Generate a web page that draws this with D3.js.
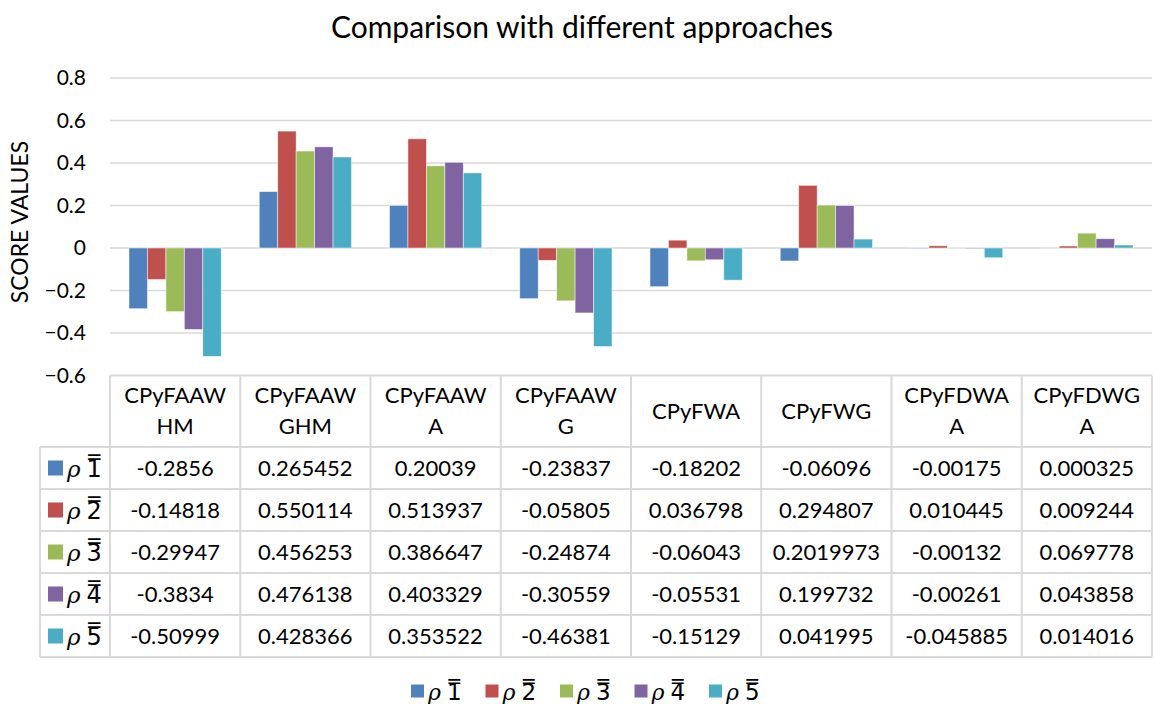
<!DOCTYPE html>
<html>
<head>
<meta charset="utf-8">
<script src="https://cdn.jsdelivr.net/npm/d3@7"></script>
<style>
  html, body { margin: 0; padding: 0; background: #fff; }
  svg { display: block; font-family: Lato, "Open Sans", sans-serif; }
</style>
</head>
<body>
<svg id="chart" width="1156" height="704"></svg>
<script>
// Approaches compared along the x axis (header text split into lines)
const categories = ["CPyFAAWHM", "CPyFAAWGHM", "CPyFAAWA", "CPyFAAWG", "CPyFWA", "CPyFWG", "CPyFDWAA", "CPyFDWGA"];
const headerLines = [["CPyFAAW", "HM"], ["CPyFAAW", "GHM"], ["CPyFAAW", "A"], ["CPyFAAW", "G"], ["CPyFWA"], ["CPyFWG"], ["CPyFDWA", "A"], ["CPyFDWG", "A"]];

// Series names (digit after the rho symbol)
const seriesKeys = ["1", "2", "3", "4", "5"];

// Score values per series, one entry per approach; table strings as printed
const rho1 = ["-0.2856", "0.265452", "0.20039", "-0.23837", "-0.18202", "-0.06096", "-0.00175", "0.000325"];
const rho2 = ["-0.14818", "0.550114", "0.513937", "-0.05805", "0.036798", "0.294807", "0.010445", "0.009244"];
const rho3 = ["-0.29947", "0.456253", "0.386647", "-0.24874", "-0.06043", "0.2019973", "-0.00132", "0.069778"];
const rho4 = ["-0.3834", "0.476138", "0.403329", "-0.30559", "-0.05531", "0.199732", "-0.00261", "0.043858"];
const rho5 = ["-0.50999", "0.428366", "0.353522", "-0.46381", "-0.15129", "0.041995", "-0.045885", "0.014016"];

const yTicks = [0.8, 0.6, 0.4, 0.2, 0, -0.2, -0.4, -0.6];
const colors = ["#4F81BD", "#C0504D", "#9BBB59", "#8064A2", "#4BACC6"];

const seriesText = [rho1, rho2, rho3, rho4, rho5];
const seriesVals = seriesText.map(arr => arr.map(Number));

const svg = d3.select("#chart");

const plotLeft = 110, plotRight = 1152;
const plotTop = 78, plotBottom = 375.5;

const x0 = d3.scaleBand().domain(categories).range([plotLeft, plotRight]);
const x1 = d3.scaleBand().domain(seriesKeys).range([0, x0.bandwidth()]).paddingOuter(1.03).paddingInner(0);
const y = d3.scaleLinear().domain([-0.6, 0.8]).range([plotBottom, plotTop]);

const gridColor = "#d9d9d9";

// Title
svg.append("text")
  .attr("x", 582).attr("y", 38)
  .attr("text-anchor", "middle")
  .attr("font-size", 30).attr("fill", "#000")
  .text("Comparison with different approaches");

// Horizontal gridlines
svg.append("g").selectAll("line")
  .data(yTicks.filter(t => t !== -0.6))
  .join("line")
  .attr("x1", plotLeft).attr("x2", plotRight)
  .attr("y1", d => y(d)).attr("y2", d => y(d))
  .attr("stroke", gridColor).attr("stroke-width", 1.5);

// Y axis tick labels
const yAxis = d3.axisLeft(y).tickValues(yTicks).tickSize(0).tickPadding(0)
  .tickFormat(d => d === 0 ? "0" : d3.format(".1f")(d));
const yg = svg.append("g").attr("transform", `translate(86,0)`).call(yAxis);
yg.select(".domain").remove();
yg.selectAll("text").attr("font-size", 21).attr("fill", "#000")
  .attr("font-family", "Lato, 'Open Sans', sans-serif");

// Y axis title
svg.append("text")
  .attr("transform", "translate(28,222) rotate(-90)")
  .attr("text-anchor", "middle")
  .attr("font-size", 23).attr("fill", "#000")
  .text("SCORE VALUES");

// Bars
const groups = svg.append("g").selectAll("g")
  .data(categories)
  .join("g")
  .attr("transform", d => `translate(${x0(d)},0)`);

groups.selectAll("rect")
  .data((c, ci) => seriesKeys.map((k, si) => ({ k, si, v: seriesVals[si][ci] })))
  .join("rect")
  .attr("x", d => x1(d.k))
  .attr("width", x1.bandwidth())
  .attr("y", d => y(Math.max(0, d.v)))
  .attr("height", d => Math.abs(y(d.v) - y(0)))
  .attr("fill", d => colors[d.si])
  .attr("stroke", "#ffffff").attr("stroke-opacity", 0.6).attr("stroke-width", 0.8);

// Data table
const headerTop = 375.5, headerBottom = 447;
const rowH = 42;
const tableLeft = 40;
const rowTops = seriesKeys.map((k, i) => headerBottom + i * rowH);
const tableBottom = headerBottom + seriesKeys.length * rowH;

const tg = svg.append("g");
function hline(x1v, x2v, yv) {
  tg.append("line").attr("x1", x1v).attr("x2", x2v).attr("y1", yv).attr("y2", yv)
    .attr("stroke", gridColor).attr("stroke-width", 2);
}
function vline(xv, y1v, y2v) {
  tg.append("line").attr("x1", xv).attr("x2", xv).attr("y1", y1v).attr("y2", y2v)
    .attr("stroke", gridColor).attr("stroke-width", 2);
}
hline(plotLeft, plotRight, headerTop);
rowTops.forEach(t => hline(tableLeft, plotRight, t));
hline(tableLeft, plotRight, tableBottom);
vline(tableLeft, headerBottom, tableBottom);
categories.forEach(c => vline(x0(c), headerTop, tableBottom));
vline(plotRight, headerTop, tableBottom);

// Header cells
categories.forEach((c, ci) => {
  const lines = headerLines[ci];
  const cx = x0(c) + x0.bandwidth() / 2;
  const mid = (headerTop + headerBottom) / 2;
  const lh = 31;
  lines.forEach((ln, li) => {
    tg.append("text")
      .attr("x", cx)
      .attr("y", mid + (li - (lines.length - 1) / 2) * lh)
      .attr("dy", "0.35em")
      .attr("text-anchor", "middle")
      .attr("font-size", 22).attr("fill", "#000")
      .text(ln);
  });
});

// Series label: swatch, then italic rho and the series digit carrying a
// combining double overline (U+033F), in one text run
function seriesLabel(g, xs, cy, si, sw, fs) {
  g.append("rect").attr("x", xs).attr("y", cy - sw / 2).attr("width", sw).attr("height", sw)
    .attr("fill", colors[si]);
  const t = g.append("text").attr("x", xs + sw + 4).attr("y", cy).attr("dy", "0.38em")
    .attr("font-size", fs).attr("fill", "#000");
  t.append("tspan").attr("font-style", "italic")
    .attr("font-family", "'DejaVu Serif', serif").attr("font-size", fs - 1).text("ρ");
  t.append("tspan").attr("font-family", "'DejaVu Sans', sans-serif")
    .attr("font-size", fs).attr("dx", 6).text(seriesKeys[si] + "\u033F");
}

// Data rows
seriesKeys.forEach((k, si) => {
  const cy = rowTops[si] + rowH / 2;
  seriesLabel(tg, 48, cy, si, 15, 24);
  categories.forEach((c, ci) => {
    tg.append("text")
      .attr("x", x0(c) + x0.bandwidth() / 2)
      .attr("y", cy).attr("dy", "0.35em")
      .attr("text-anchor", "middle")
      .attr("font-size", 22).attr("fill", "#000")
      .text(seriesText[si][ci]);
  });
});

// Bottom legend
const lg = svg.append("g");
const legendStart = 411, legendStep = 74.5, legendY = 691;
seriesKeys.forEach((k, si) => {
  seriesLabel(lg.append("g"), legendStart + si * legendStep, legendY, si, 13, 23);
});
</script>
</body>
</html>
